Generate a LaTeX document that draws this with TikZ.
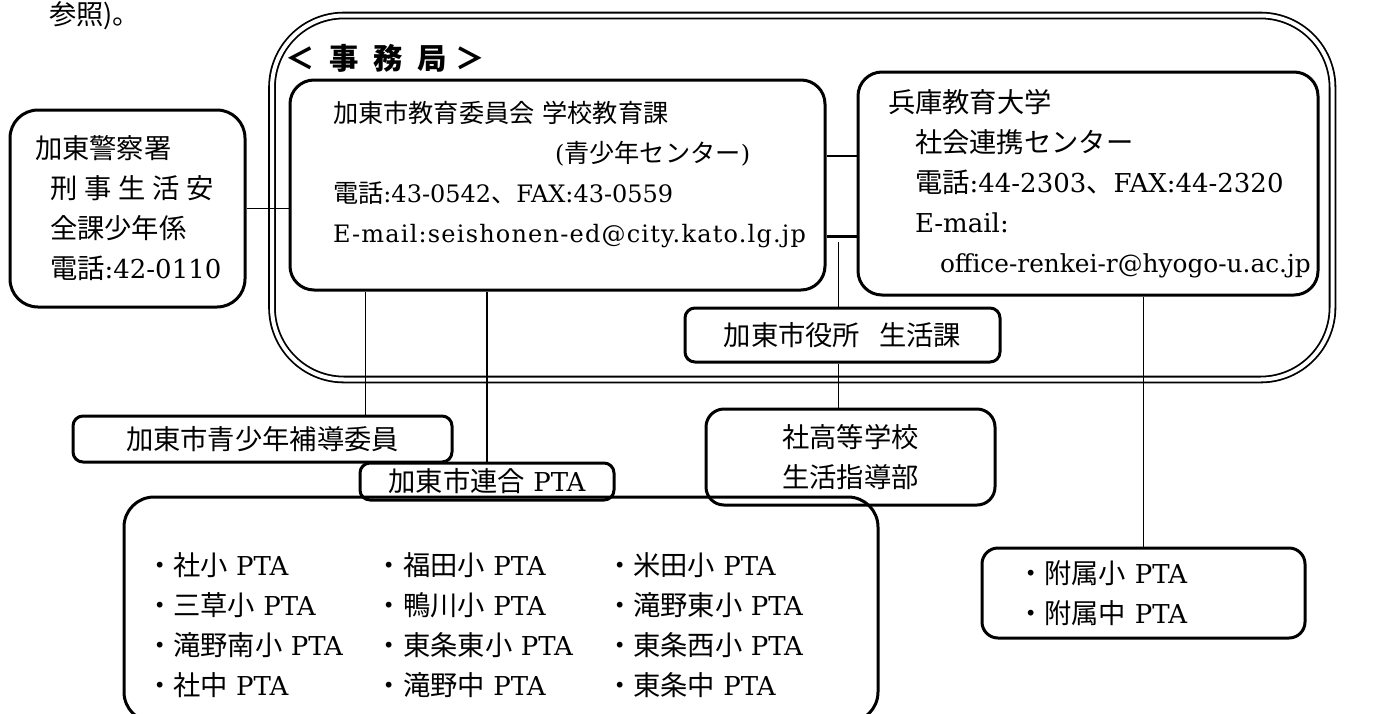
\documentclass[tikz,border=0pt]{standalone}
\usepackage{fontspec}
\setmainfont{DejaVu Serif}
\newfontfamily\jp[Scale=1.05]{Noto Sans CJK JP}
\newcommand{\wide}[1]{\addfontfeature{LetterSpace=#1}}
\tikzset{
    box/.style = {draw, rounded corners=12pt, line width=1.5pt,
        inner sep=0pt, align=left},
    smallbox/.style = {box, rounded corners=5pt, align=center},
    link/.style = {draw, line width=0.8pt},
    thicklink/.style = {draw, line width=1.5pt},
    frame/.style = {draw, double, double distance=2pt, line width=0.9pt,
        rounded corners=36pt}
}
\begin{document}
\begin{tikzpicture}[x=0.5pt, y=-0.5pt, font=\fontsize{13}{20}\selectfont]
    \useasboundingbox (0,0) rectangle (1377,713);
    % text left over from the page above
    \node[anchor=west] (prev) at (42,16) {{\jp 参照)。}};
    % office frame
    \draw[frame] (272,15.5) rectangle (1332.5,379.5);
    \node[anchor=west, font=\fontsize{14}{16}\selectfont] (title) at (278,58)
        {{\jp\bfseries ＜\enspace 事\enspace 務\enspace 局\hspace{0.3em}＞}};
    \node[box, font=\fontsize{12}{20}\selectfont, text depth=73pt, minimum width=267.5pt,
        minimum height=105pt, text width=224.5pt] (board) at (557.5,185) {
        {\jp 加東市教育委員会\ 学校教育課}\\
        \hspace*{111pt}({\jp 青少年センター})\\
        {\jp 電話}:43-0542{\jp 、}FAX:43-0559\\
        \mbox{\wide{5}E-mail:seishonen-ed@city.kato.lg.jp}};
    \node[box, minimum width=230pt, minimum height=111.5pt, text width=200pt] (univ) at (1088,183.5) {
        {\jp 兵庫教育大学}\\
        \hspace*{13.5pt}{\jp 社会連携センター}\\
        \hspace*{13.5pt}{\jp 電話}:44-2303{\jp 、}FAX:44-2320\\
        \hspace*{13.5pt}E-mail:\\
        \hspace*{26pt}\mbox{\fontsize{12.4}{20}\selectfont office-renkei-r@hyogo-u.ac.jp}};
    \node[smallbox, minimum width=157.5pt, minimum height=27pt] (cityhall) at (842.5,335)
        {{\jp 加東市役所\hspace{0.7em}生活課}};
    % outside the frame
    \node[box, rounded corners=14pt, minimum width=117.5pt, minimum height=98.5pt, text width=92.5pt] (police) at (127.5,208.5) {
        {\jp 加東警察署}\\
        \hspace*{7.5pt}\mbox{\jp 刑\hspace{0.25em}事\hspace{0.25em}生\hspace{0.25em}活\hspace{0.25em}安}\\
        \hspace*{7.5pt}{\jp 全課少年係}\\
        \hspace*{7.5pt}\mbox{{\jp 電話}:42-0110}};
    \node[smallbox, minimum width=189.5pt, minimum height=23pt] (guidance) at (262.5,439)
        {{\jp 加東市青少年補導委員}};
    \node[smallbox, rounded corners=9pt, minimum width=144.5pt, minimum height=48pt] (school) at (850.5,457)
        {{\jp 社高等学校}\\{\jp 生活指導部}};
    \node[smallbox, minimum width=127pt, minimum height=18.5pt] (ptahead) at (487,481.5)
        {{\jp 加東市連合} PTA};
    \node[box, rounded corners=15pt, minimum width=377pt, minimum height=112.5pt] (ptalist) at (501,609.5) {
        \raisebox{-8.75pt}[\height][\depth]{%
        \setlength{\tabcolsep}{0pt}%
        \begin{tabular}{p{115pt}p{115pt}p{125pt}}
            {\jp ・社小} PTA & {\jp ・福田小} PTA & {\jp ・米田小} PTA\\
            {\jp ・三草小} PTA & {\jp ・鴨川小} PTA & {\jp ・滝野東小} PTA\\
            {\jp ・滝野南小} PTA & {\jp ・東条東小} PTA & {\jp ・東条西小} PTA\\
            {\jp ・社中} PTA & {\jp ・滝野中} PTA & {\jp ・東条中} PTA
        \end{tabular}}};
    \node[box, rounded corners=8pt, minimum width=161.5pt, minimum height=45pt,
        text width=126.5pt] (fuzoku) at (1143.5,593) {
        {\jp ・附属小} PTA\\
        {\jp ・附属中} PTA};
    % connectors
    \draw[link] (police.east) -- (police.east -| board.west);
    \draw[link] ([yshift=14.5pt]board.east) -- ([yshift=14.5pt]board.east -| univ.west);
    \draw[thicklink] ([yshift=-25.5pt]board.east) -- node[coordinate, pos=0.4] (hub) {}
        ([yshift=-25.5pt]board.east -| univ.west);
    \draw[link] ([yshift=-3pt]hub) -- (hub |- cityhall.north);
    \draw[link] (hub |- cityhall.south) -- (hub |- school.north);
    \draw[link] ([xshift=38.5pt]board.south west) -- ([xshift=38.5pt]board.south west |- guidance.north);
    \draw[link] (ptahead.north |- board.south) -- (ptahead.north);
    \draw[link] (fuzoku.north |- univ.south) -- (fuzoku.north);
\end{tikzpicture}
\end{document}
